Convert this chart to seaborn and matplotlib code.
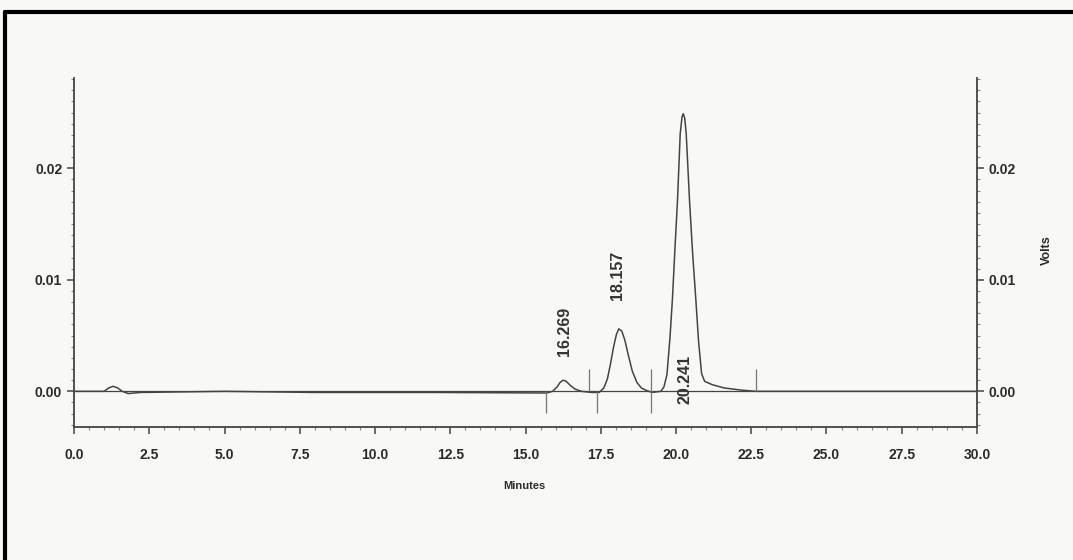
import matplotlib.pyplot as plt
import matplotlib.lines as mlines
from matplotlib.ticker import MultipleLocator
import seaborn as sns
import pandas as pd

# Detector trace (minutes, volts)
minutes = [0.0, 1.0, 1.15, 1.3, 1.45, 1.6, 1.8, 2.2, 5.0, 8.0, 12.0, 15.7,
           15.9, 16.05, 16.15, 16.25, 16.35, 16.5, 16.65, 16.85, 17.2,
           17.45, 17.6, 17.72, 17.82, 17.92, 18.02, 18.1, 18.2, 18.3, 18.42,
           18.55, 18.7, 18.85, 19.0, 19.2,
           19.5, 19.6, 19.7, 19.8, 19.88, 19.96, 20.05, 20.14, 20.2, 20.241, 20.29,
           20.34, 20.45, 20.55, 20.66, 20.75, 20.85, 20.95, 21.2, 21.6, 22.2,
           22.65, 30.0]
volts = [0.0, 0.0, 0.0003, 0.00045, 0.0003, 0.0, -0.0002, -0.0001, 0.0, -0.0001, -0.0001, -0.00015,
         0.0, 0.0004, 0.0008, 0.001, 0.0009, 0.0005, 0.0002, 0.0, -0.0001,
         -0.0001, 0.0003, 0.0011, 0.0024, 0.0039, 0.0051, 0.0056, 0.0054, 0.0046, 0.0032,
         0.0018, 0.0008, 0.0003, 0.0001, -0.0001,
         0.0, 0.0004, 0.0015, 0.0048, 0.0082, 0.0125, 0.0171, 0.0231, 0.0246, 0.0249, 0.0245,
         0.0231, 0.0171, 0.0125, 0.0082, 0.0045, 0.0016, 0.0009, 0.0006, 0.0003, 0.0001,
         0.0, 0.0]

# Peak retention times
peak_times = [16.269, 18.157, 20.241]
peak_labels = ["16.269", "18.157", "20.241"]

# Integration baseline event marks (minutes) and their direction
event_times = [15.68, 17.1, 17.38, 19.17, 22.66]
event_dirs = ["down", "up", "down", "both", "up"]

df = pd.DataFrame({"Minutes": minutes, "Volts": volts})

sns.set_theme(style="ticks")
plt.rcParams["font.family"] = ["Liberation Sans", "DejaVu Sans"]

bg = "#f8f8f6"
ink = "#444444"

fig = plt.figure(figsize=(10.73, 5.6), dpi=100, facecolor=bg)
ax = fig.add_axes([0.069, 0.2375, 0.8415, 0.6232])
ax.set_facecolor(bg)

sns.lineplot(data=df, x="Minutes", y="Volts", ax=ax, estimator=None, sort=False,
             color=ink, linewidth=1.1)
ax.axhline(0, color=ink, linewidth=0.9, zorder=1)

# baseline event marks
for t, d in zip(event_times, event_dirs):
    lo = -0.0019 if d in ("down", "both") else 0.0
    hi = 0.002 if d in ("up", "both") else 0.0
    ax.vlines(t, lo, hi, color="#777777", linewidth=0.9)

# peak labels, rotated like the integrator printout
offsets = [0.0032, 0.0082, -0.0011]
xshift = [0.02, -0.09, 0.06]
for t, lab, off, dx in zip(peak_times, peak_labels, offsets, xshift):
    ax.text(t + dx, off, lab, rotation=90, ha="center", va="bottom",
            fontsize=11.5, fontweight="bold", color="#333333")

ax.set_xlim(0, 30)
ax.set_ylim(-0.0032, 0.0281)
ax.xaxis.set_major_locator(MultipleLocator(2.5))
ax.xaxis.set_minor_locator(MultipleLocator(0.5))
ax.yaxis.set_major_locator(MultipleLocator(0.01))
ax.yaxis.set_minor_locator(MultipleLocator(0.001))
ax.xaxis.set_major_formatter(plt.FuncFormatter(lambda v, p: f"{v:.1f}"))
ax.yaxis.set_major_formatter(plt.FuncFormatter(lambda v, p: f"{v:.2f}"))

ax.tick_params(axis="both", which="major", direction="out", length=5, width=1.1,
               colors=ink, labelsize=10, labelcolor="#2a2a2a")
ax.tick_params(axis="both", which="minor", direction="out", length=2.5, width=0.8, colors="#888888")
ax.tick_params(axis="y", which="both", right=True, labelright=True, left=True, labelleft=True)
ax.tick_params(axis="x", which="major", pad=10)
for lab in ax.get_xticklabels() + ax.get_yticklabels():
    lab.set_fontweight("bold")

for side in ["left", "right", "bottom"]:
    ax.spines[side].set_color(ink)
    ax.spines[side].set_linewidth(1.3)
ax.spines["top"].set_visible(False)

ax.set_xlabel("")
ax.set_ylabel("")
fig.text(0.489, 0.132, "Minutes", ha="center", va="center", fontsize=8,
         fontweight="bold", color="#2a2a2a")
fig.text(0.976, 0.553, "Volts", ha="center", va="center", rotation=90, fontsize=9,
         fontweight="bold", color="#2a2a2a")

# scanned page frame
fig.add_artist(mlines.Line2D([0.005, 0.005], [0.0, 0.979], transform=fig.transFigure,
                             color="black", linewidth=3))
fig.add_artist(mlines.Line2D([0.005, 1.0], [0.979, 0.979], transform=fig.transFigure,
                             color="black", linewidth=3))

fig.savefig("out.png", dpi=100, facecolor=bg)
